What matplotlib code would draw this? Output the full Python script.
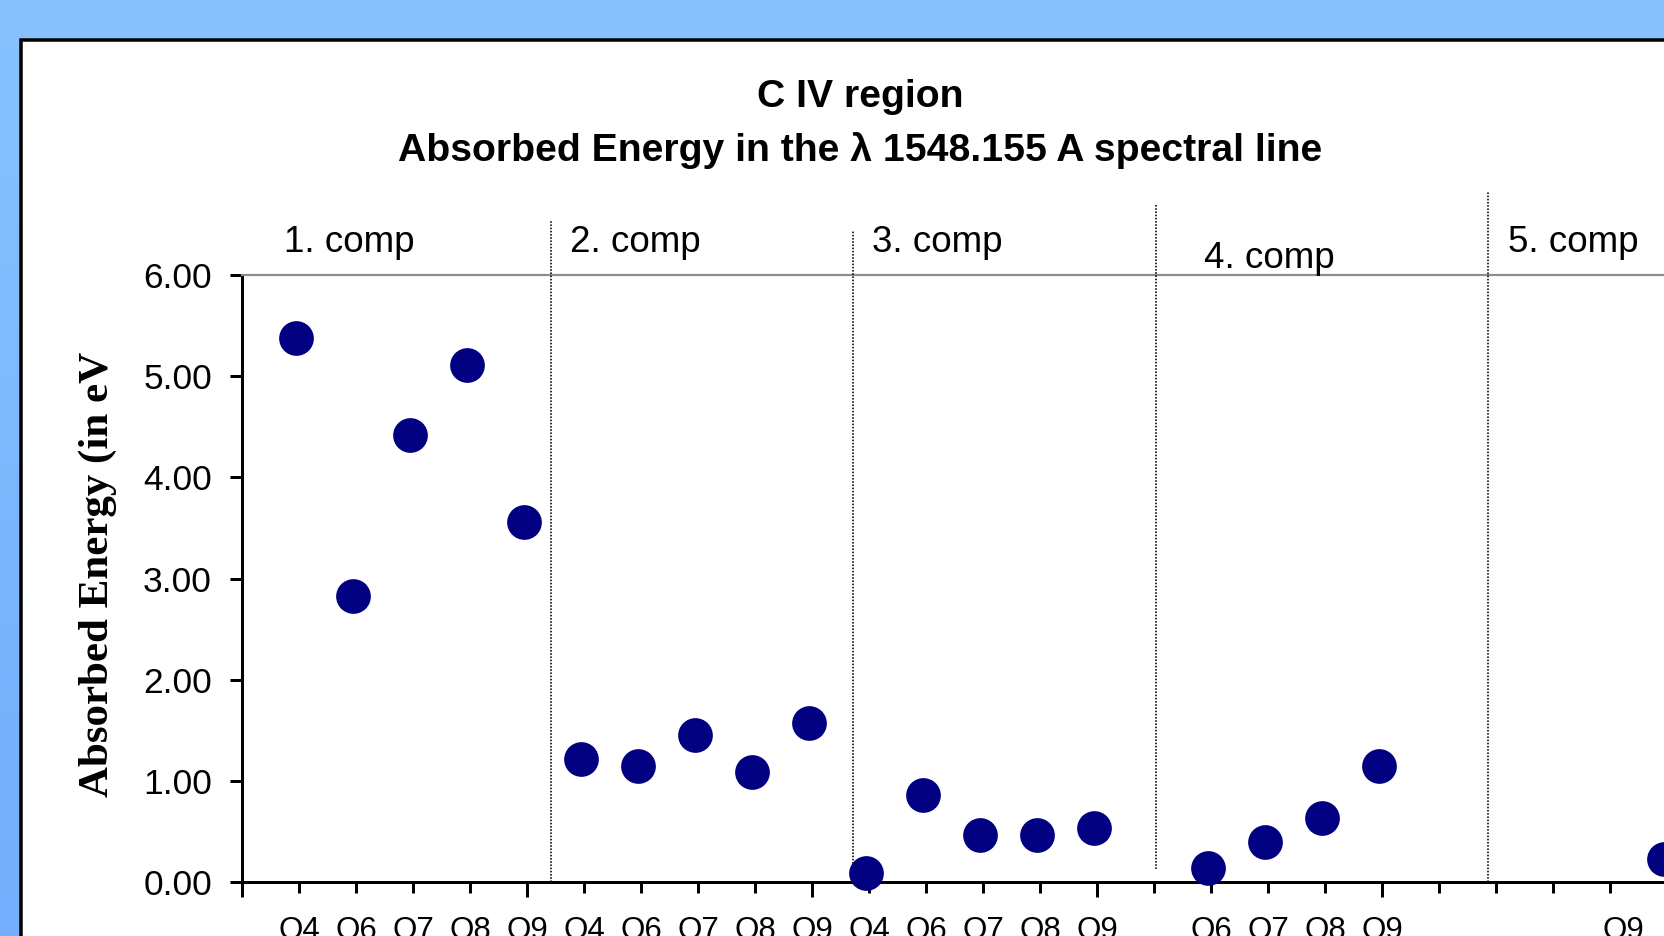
import numpy as np
import matplotlib
matplotlib.use("Agg")
import matplotlib.pyplot as plt
from matplotlib.patches import Rectangle
from matplotlib.ticker import FixedLocator
from matplotlib.colors import LinearSegmentedColormap
from matplotlib.transforms import ScaledTranslation

# ---------------- data ----------------
groups = ["1. comp", "2. comp", "3. comp", "4. comp", "5. comp"]
slot_names = ["O4", "O6", "O7", "O8", "O9"]
g1 = [5.38, 2.83, 4.42, 5.11, 3.56]
g2 = [1.22, 1.15, 1.45, 1.09, 1.57]
g3 = [0.09, 0.86, 0.46, 0.46, 0.53]
g4 = [np.nan, 0.14, 0.40, 0.63, 1.15]
g5 = [np.nan, np.nan, np.nan, np.nan, 0.23]
yticks = [0, 1, 2, 3, 4, 5, 6]
title_lines = ["C IV region", "Absorbed Energy in the \u03bb 1548.155 A spectral line"]
ylabel = "Absorbed Energy (in eV"

# ---------------- layout constants ----------------
W, H, DPI = 1664, 936, 100
BLUE_TOP = "#87C2FF"
BLUE_BOT = "#72AEFB"
NAVY = "#000080"
PX = 72.0 / DPI  # points per pixel

series = [g1, g2, g3, g4, g5]
xs, ys, labels = [0], [np.nan], [""]
for gi, vals in enumerate(series):
    for si, v in enumerate(vals):
        xs.append(gi * 5 + si + 1)
        ys.append(v)
        labels.append("" if np.isnan(v) else slot_names[si])

plt.rcParams["font.family"] = ["Liberation Sans", "DejaVu Sans"]
fig = plt.figure(figsize=(W / DPI, H / DPI), dpi=DPI, facecolor=BLUE_TOP)

# gradient blue backdrop
bg = fig.add_axes([0, 0, 1, 1])
bg.set_zorder(-10)
bg.axis("off")
cmap = LinearSegmentedColormap.from_list("bg", [BLUE_BOT, BLUE_TOP])
bg.imshow(np.linspace(0, 1, 256).reshape(-1, 1), aspect="auto", cmap=cmap,
          origin="lower", extent=[0, 1, 0, 1])

# white chart panel with black border (extends beyond right/bottom edges)
panel = Rectangle((21 / W, -0.2), 1.3, 1.2 - 40 / H, transform=fig.transFigure,
                  facecolor="white", edgecolor="black", linewidth=3.5 * PX, zorder=-5)
fig.patches.append(panel)

step = 57.0
x0_px, y0_px, y6_px = 242, 882, 275
ax = fig.add_axes([x0_px / W, (H - y0_px) / H, 26 * step / W, (y0_px - y6_px) / H])
ax.set_facecolor("none")
ax.set_zorder(1)
ax.set_xlim(0, 26)
ax.set_ylim(0, 6)

shift = ScaledTranslation(-3.5 / DPI, 0, fig.dpi_scale_trans)
ax.plot(xs, ys, linestyle="none", marker="o", markersize=25,
        markerfacecolor=NAVY, markeredgecolor=NAVY, markeredgewidth=0,
        clip_on=False, zorder=5, transform=ax.transData + shift)

# spines
for s in ["left", "bottom"]:
    ax.spines[s].set_linewidth(3 * PX)
    ax.spines[s].set_color("black")
ax.spines["top"].set_color("#8C8C8C")
ax.spines["top"].set_linewidth(2.2 * PX)
ax.spines["right"].set_visible(False)

# y axis
ax.set_yticks(yticks)
ax.set_yticklabels([f"{v:.2f}" for v in yticks])
ax.tick_params(axis="y", direction="out", length=12 * PX, width=3 * PX,
               pad=18 * PX, labelsize=25.5, colors="black")

# x axis
ax.xaxis.remove_overlapping_locs = False
ax.set_xticks(xs)
ax.set_xticklabels(labels)
ax.xaxis.set_minor_locator(FixedLocator(list(range(0, 27, 5))))
ax.tick_params(axis="x", which="major", direction="out", length=11 * PX,
               width=3 * PX, pad=23 * PX, labelsize=22.5)
ax.tick_params(axis="x", which="minor", direction="out", length=15 * PX,
               width=3 * PX, labelbottom=False)
# last category label sits a bit left of its tick in the original (kept in frame)
last_lab = ax.get_xticklabels()[-1]
last_lab.set_transform(last_lab.get_transform()
                       + ScaledTranslation(-44 / DPI, 0, fig.dpi_scale_trans))

# group separators (dotted) and labels
sep_x = [5.42, 10.72, 16.04, 21.86]
sep_top = [6.54, 6.43, 6.69, 6.83]
sep_bot = [0.0, 0.12, 0.13, 0.0]
for sx, t, b in zip(sep_x, sep_top, sep_bot):
    ax.plot([sx, sx], [b, t], color="black", linestyle=(0, (1, 1)),
            linewidth=1.6 * PX, clip_on=False, zorder=3)

lab_x = [0.74, 5.75, 11.05, 16.88, 22.21]
lab_y = [6.227, 6.227, 6.227, 6.069, 6.227]
for g, lx, ly in zip(groups, lab_x, lab_y):
    ax.text(lx, ly, g, fontsize=26.5, ha="left", va="baseline", clip_on=False)

# titles
fig.text(860 / W, 1 - 107 / H, title_lines[0], fontsize=28.2, fontweight="bold",
         ha="center", va="baseline")
fig.text(860 / W, 1 - 161 / H, title_lines[1], fontsize=28.2, fontweight="bold",
         ha="center", va="baseline")

# y label (bold serif)
fig.text(98 / W, 1 - 574 / H, ylabel, rotation=90, fontsize=31,
         fontweight="bold", family=["Liberation Serif", "DejaVu Serif"],
         ha="center", va="center")

fig.savefig("out.png", dpi=DPI)
